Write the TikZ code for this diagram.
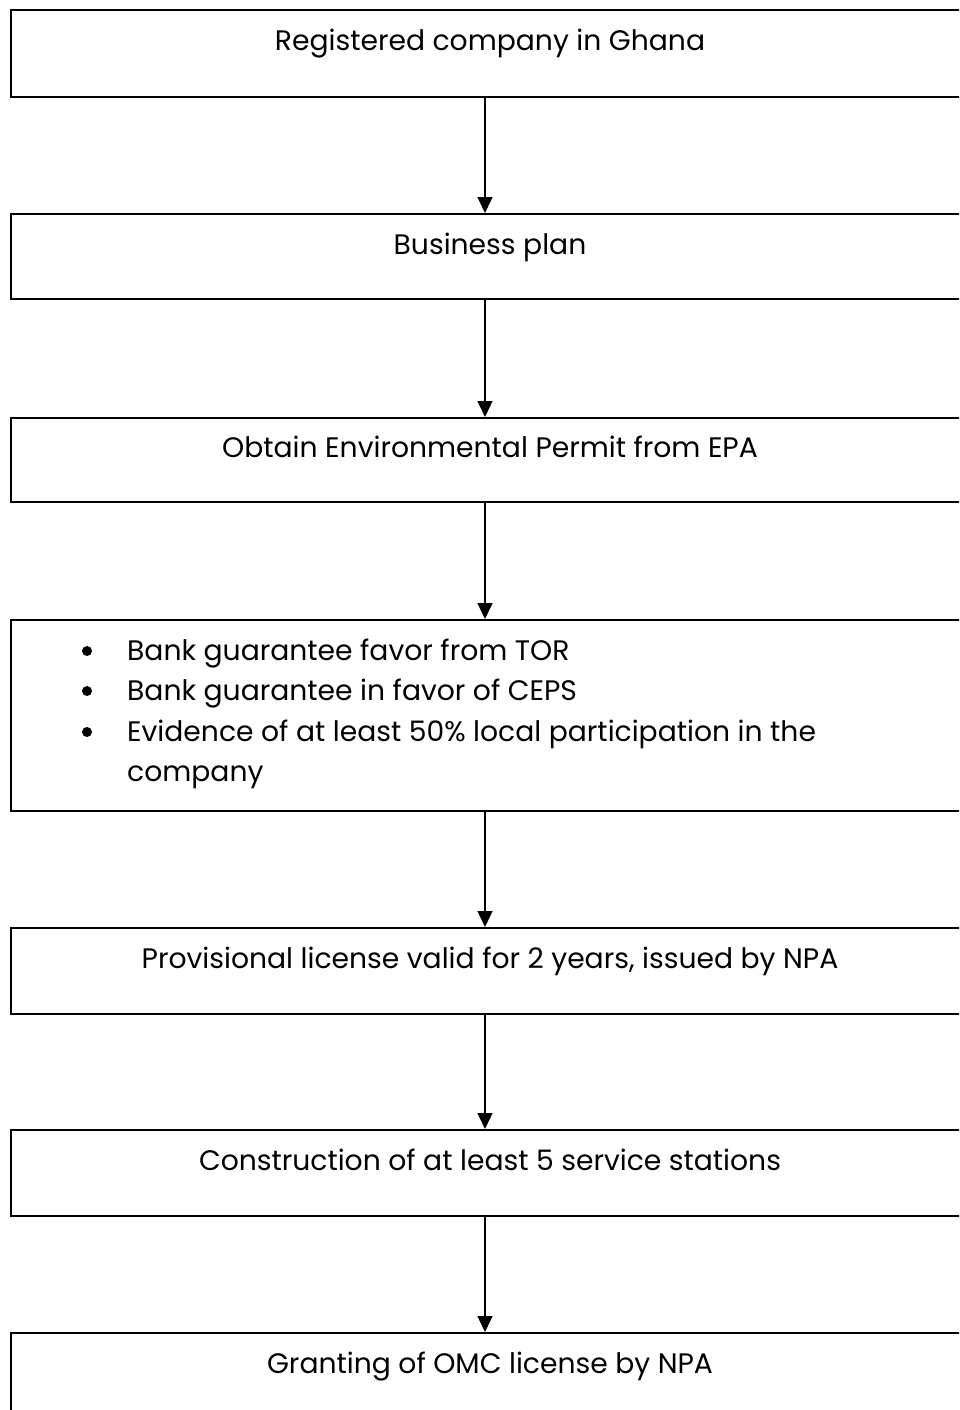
\documentclass[tikz,border=0pt]{standalone}
\usepackage{fontspec}
\setmainfont{Poppins}
\usetikzlibrary{arrows.meta}
\begin{document}
\begin{tikzpicture}[x=1pt,y=-1pt,
  box/.style={draw=black, line width=2pt, rectangle, anchor=north west, inner sep=0pt},
  lbl/.style={font=\fontsize{28.2}{34}\selectfont, inner sep=0pt, anchor=base},
  blbl/.style={lbl, anchor=base west},
  arr/.style={line width=1.4pt, -{Triangle[width=15pt,length=16pt]}}]
\useasboundingbox (0,0) rectangle (959,1410);
\clip (0,0) rectangle (959,1410);
\fill[white] (0,0) rectangle (959,1410);
\node[box, minimum width=962pt, minimum height=87pt] (b1) at (10,9) {};
\node[box, minimum width=962pt, minimum height=85pt] (b2) at (10,213) {};
\node[box, minimum width=962pt, minimum height=84pt] (b3) at (10,417) {};
\node[box, minimum width=962pt, minimum height=191pt] (b4) at (10,619) {};
\node[box, minimum width=962pt, minimum height=86pt] (b5) at (10,927) {};
\node[box, minimum width=962pt, minimum height=86pt] (b6) at (10,1129) {};
\node[box, minimum width=962pt, minimum height=120pt] (b7) at (10,1332) {};
\node[lbl] (t1) at (490,51) {Registered company in Ghana};
\node[lbl] (t2) at (490,254) {Business plan};
\node[lbl] (t3) at (490,457) {Obtain Environmental Permit from EPA};
\node[blbl] (t4a) at (127,660) {Bank guarantee favor from TOR};
\node[blbl] (t4b) at (127,700) {Bank guarantee in favor of CEPS};
\node[blbl] (t4c) at (127,741) {Evidence of at least 50\% local participation in the};
\node[blbl] (t4d) at (127,781) {company};
\fill (87,651) circle (5pt);
\fill (87,691) circle (5pt);
\fill (87,732) circle (5pt);
\node[lbl] (t5) at (490,968) {Provisional license valid for 2 years, issued by NPA};
\node[lbl] (t6) at (490,1170) {Construction of at least 5 service stations};
\node[lbl] (t7) at (490,1373) {Granting of OMC license by NPA};
\coordinate (a1s) at (485,96); \coordinate (a1e) at (485,213);
\coordinate (a2s) at (485,298); \coordinate (a2e) at (485,417);
\coordinate (a3s) at (485,501); \coordinate (a3e) at (485,619);
\coordinate (a4s) at (485,810); \coordinate (a4e) at (485,927);
\coordinate (a5s) at (485,1013); \coordinate (a5e) at (485,1129);
\coordinate (a6s) at (485,1215); \coordinate (a6e) at (485,1332);
\draw[arr] (a1s) -- (a1e);
\draw[arr] (a2s) -- (a2e);
\draw[arr] (a3s) -- (a3e);
\draw[arr] (a4s) -- (a4e);
\draw[arr] (a5s) -- (a5e);
\draw[arr] (a6s) -- (a6e);
\end{tikzpicture}
\end{document}
